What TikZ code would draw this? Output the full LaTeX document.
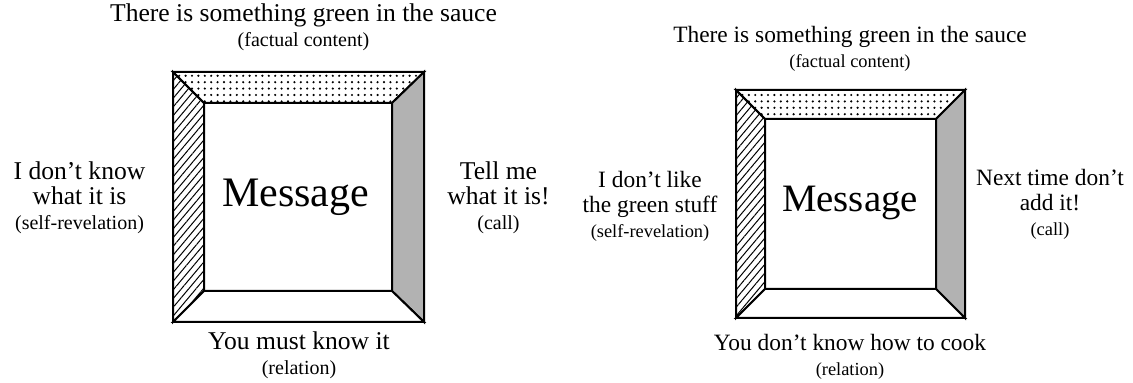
\documentclass[tikz,border=0pt]{standalone}
\usepackage{fontspec}
\setmainfont{Liberation Serif}
\usetikzlibrary{patterns.meta,positioning}

\begin{document}
\begin{tikzpicture}[
    x=0.5pt, y=-0.5pt,
    facet/.style={draw=black, line width=1pt, line join=miter},
    rim/.style={draw=black, line width=1.4pt},
    dotted face/.style={facet, pattern={Dots[distance=3.2pt, radius=0.6pt]}},
    hatched face/.style={facet, pattern={Lines[angle=50, distance=2.8pt, line width=0.5pt]}},
    grey face/.style={facet, fill=black!30},
    blank face/.style={facet, fill=white},
    saying/.style={align=center, inner sep=0pt, anchor=north, font=\fontsize{12.8}{12.5}\selectfont},
    msgtext/.style={inner sep=0pt, anchor=base, font=\fontsize{21}{24}\selectfont}
]
\useasboundingbox (0,0) rectangle (1133,383);
\newcommand{\aspect}{\fontsize{10}{11}\selectfont}

% left message square
\draw[dotted face] (173,72) -- (424,72) -- (392,103) -- (204,103) -- cycle;
\draw[hatched face] (173,72) -- (204,103) -- (204,291) -- (173,322) -- cycle;
\draw[grey face] (424,72) -- (424,322) -- (392,291) -- (392,103) -- cycle;
\draw[blank face] (173,322) -- (424,322) -- (392,291) -- (204,291) -- cycle;
\draw[rim] (173,72) rectangle (424,322);

\node[msgtext] (msgL) at (295.5,207) {Message};
\node[saying] (factL) at (303.5,3.5) {There is something green in the sauce\\{\aspect (factual content)}};
\node[saying] (selfL) at (79.5,161.5) {I don’t know\\what it is\\{\aspect (self-revelation)}};
\node[saying] (callL) at (498.5,161.5) {Tell me\\what it is!\\{\aspect (call)}};
\node[saying] (relL) at (299,331.5) {You must know it\\{\aspect (relation)}};

% right message square
\begin{scope}[
    saying/.style={align=center, inner sep=0pt, anchor=north, font=\fontsize{11.7}{12.5}\selectfont},
    msgtext/.style={inner sep=0pt, anchor=base, font=\fontsize{19.4}{22}\selectfont}
]
\renewcommand{\aspect}{\fontsize{9.2}{10}\selectfont}
\draw[dotted face] (736,90) -- (965,90) -- (936,119) -- (765,119) -- cycle;
\draw[hatched face] (736,90) -- (765,119) -- (765,289) -- (736,318) -- cycle;
\draw[grey face] (965,90) -- (965,318) -- (936,289) -- (936,119) -- cycle;
\draw[blank face] (736,318) -- (965,318) -- (936,289) -- (765,289) -- cycle;
\draw[rim] (736,90) rectangle (965,318);

\node[msgtext] (msgR) at (850,212) {Message};
\node[saying] (factR) at (850,26) {There is something green in the sauce\\{\aspect (factual content)}};
\node[saying] (selfR) at (650,171) {I don’t like\\the green stuff\\{\aspect (self-revelation)}};
\node[saying] (callR) at (1050,169) {Next time don’t\\add it!\\{\aspect (call)}};
\node[saying] (relR) at (850,334) {You don’t know how to cook\\{\aspect (relation)}};
\end{scope}
\end{tikzpicture}
\end{document}
